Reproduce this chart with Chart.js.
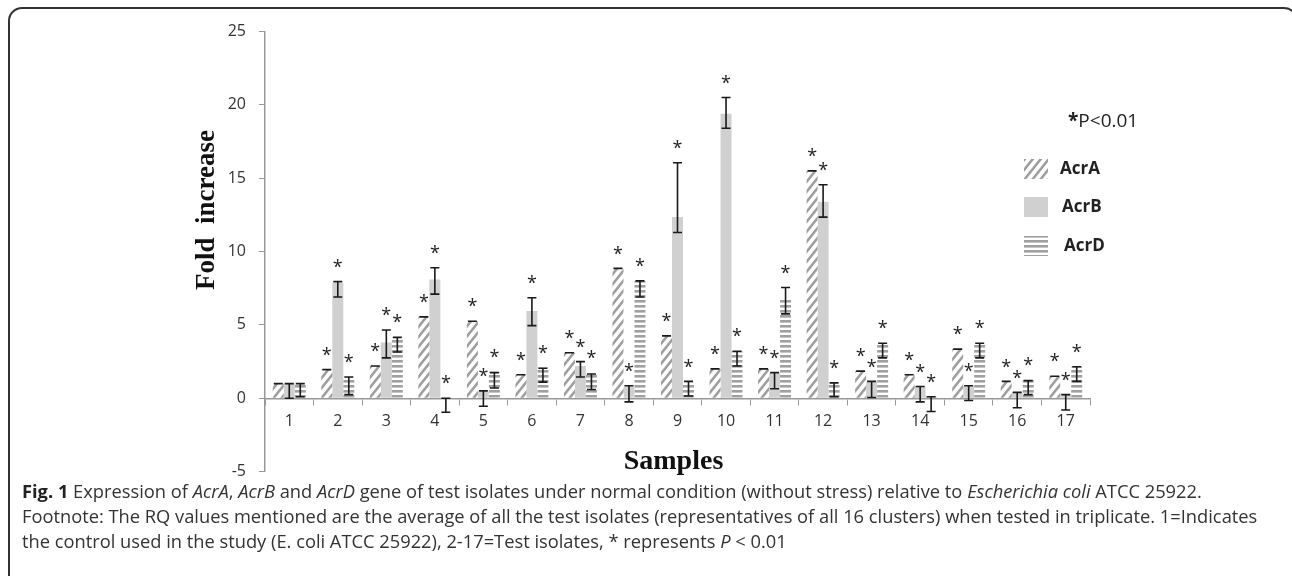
<!DOCTYPE html>
<html>
<head>
<meta charset="utf-8">
<script src="https://cdn.jsdelivr.net/npm/chart.js@4.4.1/dist/chart.umd.min.js"></script>
<style>
  html, body { margin: 0; padding: 0; background: #fff; }
  #wrap { position: relative; width: 1292px; height: 576px; overflow: hidden; }
  #frame { position: absolute; left: 8px; top: 7px; width: 1290px; height: 600px;
           border: 2px solid #333; border-radius: 14px; box-sizing: border-box; }
  #chart { position: absolute; left: 0; top: 0; }
  #caption { position: absolute; left: 22px; top: 478px; font-family: 'Open Sans';
             font-size: 18.3px; line-height: 25px; color: #333; white-space: nowrap; }
  #caption b { color: #222; }
</style>
</head>
<body>
<div id="wrap">
  <div id="frame"></div>
  <canvas id="chart" width="1292" height="576"></canvas>
  <div id="caption">
    <b>Fig. 1</b> Expression of <i>AcrA</i>, <i>AcrB</i> and <i>AcrD</i> gene of test isolates under normal condition (without stress) relative to <i>Escherichia coli</i> ATCC 25922.<br>
    Footnote: The RQ values mentioned are the average of all the test isolates (representatives of all 16 clusters) when tested in triplicate. 1=Indicates<br>
    the control used in the study (E. coli ATCC 25922), 2-17=Test isolates, * represents <i>P</i> &lt; 0.01
  </div>
</div>
<script>
// samples on the x axis
const samples = ['1','2','3','4','5','6','7','8','9','10','11','12','13','14','15','16','17'];

// fold increase per gene
const acrA = [1.0, 1.95, 2.2, 5.55, 5.25, 1.6, 3.1, 8.85, 4.25, 2.0, 2.0, 15.5, 1.85, 1.6, 3.35, 1.15, 1.5];
const acrB = [1.0, 7.85, 3.8, 8.1, 0.45, 5.95, 2.2, 0.8, 12.35, 19.4, 1.7, 13.4, 1.1, 0.8, 0.8, 0.4, 0.25];
const acrD = [1.0, 1.4, 4.1, 0.05, 1.8, 2.1, 1.7, 8.0, 1.05, 3.2, 6.75, 1.0, 3.7, 0.1, 3.75, 1.25, 2.15];

// error bar ends (AcrA has zero-width error bars: only the cap shows)
const acrBLo = [0.0, 6.9, 2.75, 7.1, -0.55, 4.95, 1.45, -0.25, 11.3, 18.4, 0.65, 12.35, 0.05, -0.25, -0.15, -0.65, -0.8];
const acrBHi = [1.0, 7.95, 4.65, 8.9, 0.5, 6.85, 2.5, 0.85, 16.05, 20.5, 1.75, 14.55, 1.15, 0.8, 0.85, 0.4, 0.25];
const acrDLo = [0.1, 0.25, 3.15, -0.95, 0.7, 1.1, 0.6, 6.9, 0.15, 2.2, 5.75, 0.1, 2.75, -0.9, 2.75, 0.25, 1.15];
const acrDHi = [1.0, 1.45, 4.15, 0.0, 1.75, 2.05, 1.65, 8.0, 1.15, 3.2, 7.55, 1.05, 3.75, 0.1, 3.75, 1.2, 2.15];

// which samples carry a significance star (*P<0.01)
const starred = [false, true, true, true, true, true, true, true, true, true, true, true, true, true, true, true, true];

const yTicks = [-5, 0, 5, 10, 15, 20, 25];

// fill patterns
function makePattern(w, h, draw) {
  const c = document.createElement('canvas');
  c.width = w; c.height = h;
  const g = c.getContext('2d');
  g.fillStyle = '#fff';
  g.fillRect(0, 0, w, h);
  draw(g, w, h);
  return g.createPattern(c, 'repeat');
}
const diagFill = makePattern(8, 10, (g, w, h) => {
  g.strokeStyle = '#9e9e9e';
  g.lineWidth = 2.6;
  for (let k = -1; k <= 1; k++) {
    g.beginPath();
    g.moveTo(-w, 2 * h + k * h);
    g.lineTo(2 * w, -h + k * h);
    g.stroke();
  }
});
const horizFill = makePattern(4, 5, (g, w) => {
  g.fillStyle = '#a0a0a0';
  g.fillRect(0, 0, w, 2.6);
});
const solidFill = '#d0d0d0';

const errs = [[acrA, acrA], [acrBLo, acrBHi], [acrDLo, acrDHi]];

const extras = {
  id: 'extras',
  afterDatasetsDraw(chart) {
    const ctx = chart.ctx;
    const y = chart.scales.y;
    ctx.save();
    chart.data.datasets.forEach((ds, i) => {
      const meta = chart.getDatasetMeta(i);
      const [lo, hi] = errs[i];
      meta.data.forEach((bar, j) => {
        const x = bar.x;
        const yl = y.getPixelForValue(lo[j]);
        const yh = y.getPixelForValue(hi[j]);
        ctx.strokeStyle = '#1a1a1a';
        ctx.lineWidth = 1.6;
        ctx.beginPath();
        ctx.moveTo(x, yl); ctx.lineTo(x, yh);
        ctx.moveTo(x - 4.5, yl); ctx.lineTo(x + 4.5, yl);
        ctx.moveTo(x - 4.5, yh); ctx.lineTo(x + 4.5, yh);
        ctx.stroke();
        if (starred[j]) {
          const top = y.getPixelForValue(Math.max(ds.data[j], hi[j], 0));
          ctx.fillStyle = '#222';
          ctx.font = '18px "Open Sans"';
          ctx.textAlign = 'center';
          ctx.textBaseline = 'middle';
          ctx.fillText('*', x, top - 14);
        }
      });
    });
    ctx.restore();
  },
  afterDraw(chart) {
    const ctx = chart.ctx;
    const area = chart.chartArea;
    ctx.save();
    // axis titles
    ctx.fillStyle = '#111';
    ctx.font = 'bold 28px "Liberation Serif"';
    ctx.textAlign = 'center';
    ctx.textBaseline = 'middle';
    ctx.fillText('Samples', (area.left + area.right) / 2 - 4, 462);

    ctx.save();
    ctx.translate(207, 210);
    ctx.rotate(-Math.PI / 2);
    ctx.font = 'bold 27px "Liberation Serif"';
    ctx.fillText('Fold  increase', 0, 0);
    ctx.restore();

    // significance note
    ctx.textAlign = 'left';
    ctx.font = 'bold 19px "Open Sans"';
    ctx.fillStyle = '#222';
    ctx.fillText('*', 1068, 122);
    const sw = ctx.measureText('*').width;
    ctx.font = '19px "Open Sans"';
    ctx.fillText('P<0.01', 1068 + sw, 122);

    // legend
    const rows = [[159, 1060], [197, 1062], [236, 1064]];
    chart.data.datasets.forEach((ds, i) => {
      const [top, tx] = rows[i];
      ctx.fillStyle = ds.backgroundColor;
      ctx.fillRect(1024, top, 24, 20);
      ctx.fillStyle = '#222';
      ctx.font = 'bold 17px "Open Sans"';
      ctx.fillText(ds.label, tx, top + 10);
    });
    ctx.restore();
  }
};

new Chart(document.getElementById('chart'), {
  type: 'bar',
  data: {
    labels: samples,
    datasets: [
      { label: 'AcrA', data: acrA, backgroundColor: diagFill },
      { label: 'AcrB', data: acrB, backgroundColor: solidFill },
      { label: 'AcrD', data: acrD, backgroundColor: horizFill }
    ]
  },
  options: {
    responsive: false,
    animation: false,
    layout: { padding: { left: 191, top: 31.5, right: 202, bottom: 104.4 } },
    datasets: { bar: { categoryPercentage: 0.68, barPercentage: 1.0 } },
    plugins: { legend: { display: false }, tooltip: { enabled: false } },
    scales: {
      x: {
        position: { y: 0 },
        grid: { drawOnChartArea: false, drawTicks: true, tickLength: 6, color: '#999', offset: true },
        border: { color: '#999', width: 1.5 },
        ticks: { color: '#333', font: { family: 'Open Sans', size: 16 }, padding: 8, maxRotation: 0 }
      },
      y: {
        min: yTicks[0],
        max: yTicks[yTicks.length - 1],
        afterFit(scale) { scale.width = 74; },
        afterBuildTicks(scale) { scale.ticks = yTicks.map(v => ({ value: v })); },
        grid: { drawOnChartArea: false, tickLength: 6, color: '#999' },
        border: { color: '#999', width: 1.5 },
        ticks: { color: '#333', font: { family: 'Open Sans', size: 16 }, padding: 13 }
      }
    }
  },
  plugins: [extras]
});
</script>
</body>
</html>
